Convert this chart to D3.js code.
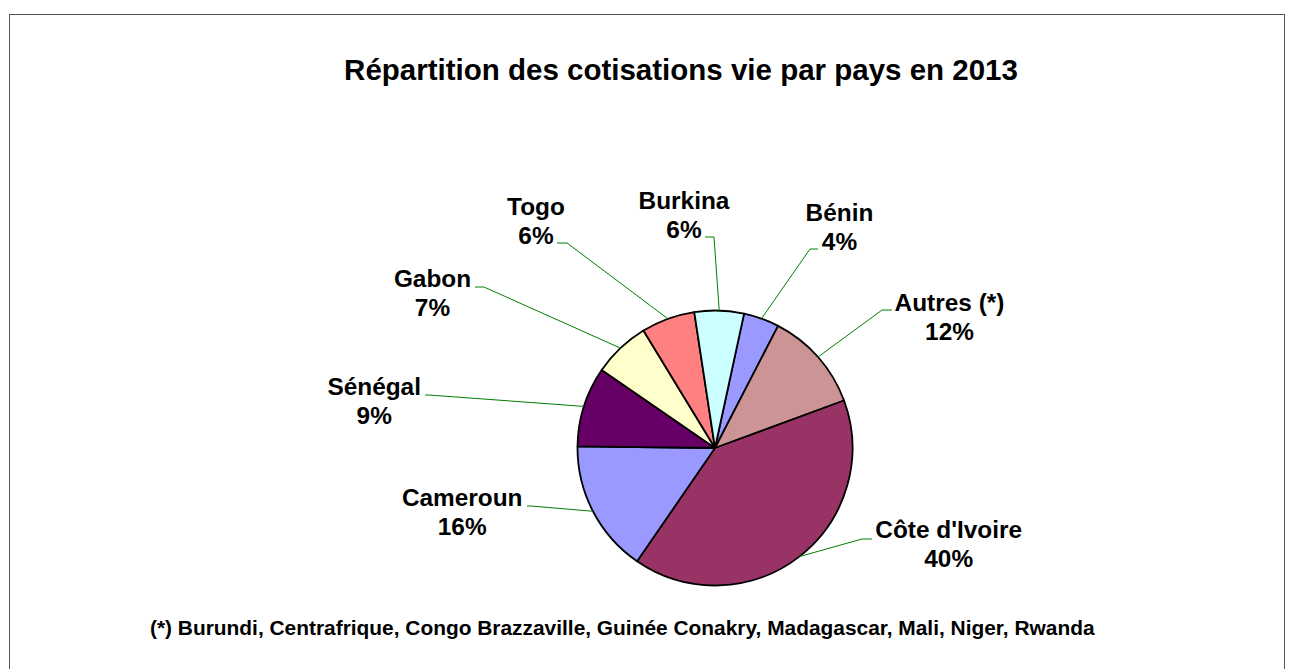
<!DOCTYPE html>
<html>
<head>
<meta charset="utf-8">
<script src="https://cdn.jsdelivr.net/npm/d3@7"></script>
<style>
  html, body { margin: 0; padding: 0; background: #fff; }
  svg { display: block; }
  text { font-family: "Liberation Sans", Arial, sans-serif; font-weight: bold; fill: #000; }
</style>
</head>
<body>
<svg id="chart" width="1293" height="669"></svg>
<script>
// ---- data ----
const countries = ["Bénin", "Autres (*)", "Côte d'Ivoire", "Cameroun", "Sénégal", "Gabon", "Togo", "Burkina"];
const shares = [4.2, 11.8, 40.2, 15.6, 9.4, 6.7, 6.3, 5.8];
const sliceColors = ["#9999FF", "#CC9494", "#993366", "#9999FF", "#660066", "#FFFFCC", "#FF8080", "#CCFFFF"];
const titleText = "Répartition des cotisations vie par pays en 2013";
const footnoteText = "(*) Burundi, Centrafrique, Congo Brazzaville, Guinée Conakry, Madagascar, Mali, Niger, Rwanda";

// ---- layout (label placement as in the reference) ----
// [text centre x, first baseline y, elbow-start x, elbow-end x, elbow y]
const labelLayout = [
  [839.5, 221, 818, 810, 249],
  [949.5, 311, 892, 882, 310],
  [948.7, 538, 872, 862, 539],
  [462.2, 506, 527, 531, 506],
  [374.2, 395, 425, 429, 395],
  [432.5, 287, 475, 484, 287],
  [536, 215, 557, 567, 243],
  [684, 209, 705, 714, 237]
];

const svg = d3.select("#chart");
const cx = 715, cy = 448, r = 137.5;

// frame
svg.append("rect")
  .attr("x", 9.5).attr("y", 14.5)
  .attr("width", 1275).attr("height", 700)
  .attr("fill", "none").attr("stroke", "#555").attr("stroke-width", 1);

// title
svg.append("text")
  .attr("x", 681).attr("y", 80)
  .attr("text-anchor", "middle")
  .style("font-size", "29.5px")
  .text(titleText);

const data = countries.map((c, i) => ({ name: c, value: shares[i], color: sliceColors[i], lay: labelLayout[i] }));

const startA = 12.2 * Math.PI / 180;
const pie = d3.pie().sort(null).value(d => d.value)
  .startAngle(startA).endAngle(startA + 2 * Math.PI);
const arcs = pie(data);
const arc = d3.arc().innerRadius(0).outerRadius(r);

const g = svg.append("g").attr("transform", `translate(${cx},${cy})`);
g.selectAll("path.slice").data(arcs).enter().append("path")
  .attr("class", "slice")
  .attr("d", arc)
  .attr("fill", d => d.data.color)
  .attr("stroke", "#000")
  .attr("stroke-width", 1.8)
  .attr("stroke-linejoin", "round");

// leader lines
svg.selectAll("polyline.leader").data(arcs).enter().append("polyline")
  .attr("class", "leader")
  .attr("fill", "none")
  .attr("stroke", "#008000")
  .attr("stroke-width", 1)
  .attr("points", d => {
    const m = (d.startAngle + d.endAngle) / 2;
    const ex = cx + r * Math.sin(m), ey = cy - r * Math.cos(m);
    const L = d.data.lay;
    return `${L[2]},${L[4]} ${L[3]},${L[4]} ${ex},${ey}`;
  });

// labels
const lab = svg.selectAll("text.lab").data(arcs).enter().append("text")
  .attr("class", "lab")
  .attr("text-anchor", "middle")
  .style("font-size", "24.4px");
lab.append("tspan")
  .attr("x", d => d.data.lay[0]).attr("y", d => d.data.lay[1])
  .text(d => d.data.name);
lab.append("tspan")
  .attr("x", d => d.data.lay[0]).attr("y", d => d.data.lay[1] + 29)
  .text(d => Math.round(d.data.value) + "%");

// footnote
svg.append("text")
  .attr("x", 150).attr("y", 635)
  .style("font-size", "20.9px")
  .text(footnoteText);
</script>
</body>
</html>
